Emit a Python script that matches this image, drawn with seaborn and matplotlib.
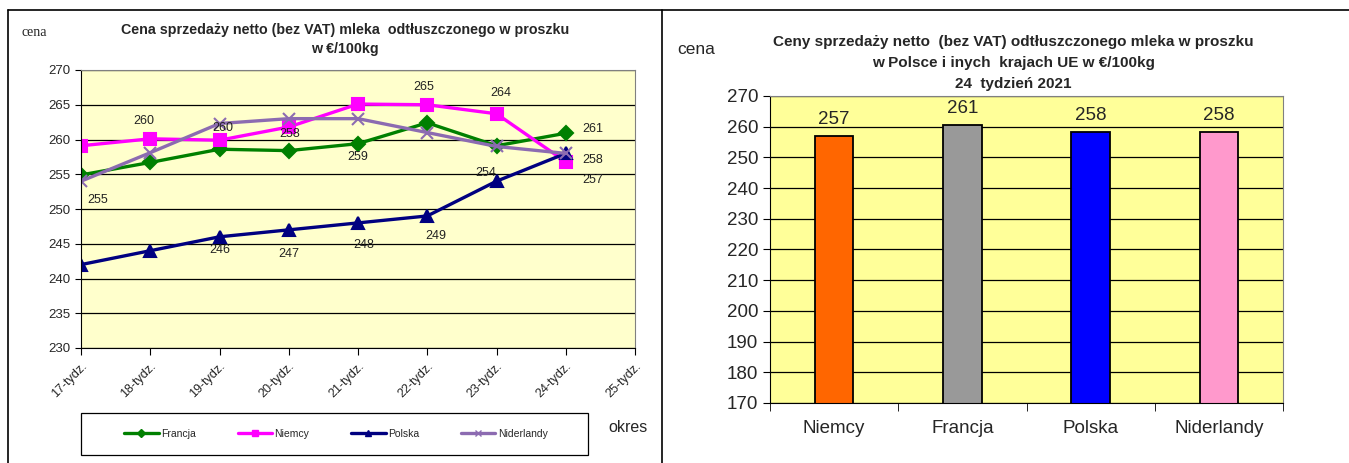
import pandas as pd
import numpy as np
import matplotlib.pyplot as plt
import seaborn as sns
from matplotlib.lines import Line2D
from matplotlib.patches import Rectangle

# ---- data ----
weeks = [17, 18, 19, 20, 21, 22, 23, 24]
week_labels = ["17-tydz.", "18-tydz.", "19-tydz.", "20-tydz.", "21-tydz.",
               "22-tydz.", "23-tydz.", "24-tydz.", "25-tydz."]
francja = [254.9, 256.7, 258.6, 258.4, 259.4, 262.4, 259.1, 260.9]
niemcy = [259.1, 260.1, 259.9, 261.8, 265.1, 265.0, 263.7, 256.8]
polska = [242.0, 244.0, 246.0, 247.0, 248.0, 249.0, 254.0, 258.0]
niderlandy = [254.0, 258.1, 262.3, 263.0, 263.0, 261.0, 259.0, 258.0]

bar_countries = ["Niemcy", "Francja", "Polska", "Niderlandy"]
bar_values = [257.0, 260.6, 258.3, 258.2]

# ---- styling ----
line_colors = {"Francja": "#008000", "Niemcy": "#FF00FF",
               "Polska": "#000080", "Niderlandy": "#8C6BB1"}
line_markers = {"Francja": "D", "Niemcy": "s", "Polska": "^", "Niderlandy": "x"}
marker_sizes = {"Francja": 7, "Niemcy": 8, "Polska": 8, "Niderlandy": 9}
bar_colors = ["#FF6600", "#999999", "#0000FF", "#FF99CC"]

sns.set_style("white")
plt.rcParams['font.family'] = ['Liberation Sans', 'DejaVu Sans']

df = pd.DataFrame({
    "week": weeks * 4,
    "cena": francja + niemcy + polska + niderlandy,
    "kraj": ["Francja"] * 8 + ["Niemcy"] * 8 + ["Polska"] * 8 + ["Niderlandy"] * 8,
})
bars_df = pd.DataFrame({"kraj": bar_countries, "cena": bar_values})

W, H = 1349, 463
fig = plt.figure(figsize=(W / 100, H / 100), dpi=100)
fig.patch.set_facecolor("white")

# frame lines
fig.add_artist(Line2D([8 / W, 1], [1 - 10 / H, 1 - 10 / H], color="black", lw=1.2))
fig.add_artist(Line2D([8 / W, 8 / W], [0, 1 - 10 / H], color="black", lw=1.2))
fig.add_artist(Line2D([662 / W, 662 / W], [0, 1 - 10 / H], color="black", lw=1.2))

# ---- left: line chart ----
ax1 = fig.add_axes([81 / W, 1 - 348 / H, (635 - 81) / W, (348 - 70) / H])
ax1.set_facecolor("#FFFFCC")
for kraj in ["Francja", "Niemcy", "Polska", "Niderlandy"]:
    sub = df[df["kraj"] == kraj]
    sns.lineplot(data=sub, x="week", y="cena", ax=ax1, color=line_colors[kraj],
                 marker=line_markers[kraj], markersize=marker_sizes[kraj],
                 markeredgecolor=line_colors[kraj], markeredgewidth=1.5,
                 linewidth=2.4, label=kraj, legend=False)

ax1.set_xlim(17, 25)
ax1.set_ylim(230, 270)
ax1.set_yticks(np.arange(230, 271, 5))
ax1.set_xticks(range(17, 26))
ax1.set_xticklabels(week_labels, rotation=45, ha="right", va="top",
                    rotation_mode="anchor", fontsize=9)
ax1.tick_params(axis="y", labelsize=9.5, length=4, color="black", direction="out", left=True)
ax1.tick_params(axis="x", length=5, color="black", direction="out", bottom=True, pad=4)
ax1.yaxis.grid(True, color="black", lw=0.9)
ax1.set_axisbelow(True)
ax1.set_xlabel("")
ax1.set_ylabel("")
for s in ["top", "right"]:
    ax1.spines[s].set_color("#808080")
for s in ["left", "bottom"]:
    ax1.spines[s].set_color("black")

series = {"Francja": francja, "Niemcy": niemcy, "Polska": polska, "Niderlandy": niderlandy}
# (series, week index, dx px, dy px)
point_labels = [
    ("Francja", 0, 17, -25), ("Niemcy", 1, -6, 18), ("Niemcy", 2, 3, 12),
    ("Francja", 3, 1, 17), ("Francja", 4, 0, -13), ("Niemcy", 5, -4, 18),
    ("Niemcy", 6, 4, 21), ("Francja", 7, 27, 4), ("Polska", 7, 27, -7),
    ("Niemcy", 7, 27, -18), ("Polska", 2, 0, -13), ("Polska", 3, 0, -24),
    ("Polska", 4, 6, -22), ("Polska", 5, 9, -20), ("Polska", 6, -11, 8),
]
for kraj, i, dx, dy in point_labels:
    v = series[kraj][i]
    ax1.annotate(f"{v:.0f}", (weeks[i], v), xytext=(dx * 0.72, dy * 0.72),
                 textcoords="offset points", ha="center", va="center",
                 fontsize=9, color="#222222")

# legend box
fig.add_artist(Rectangle((81 / W, 1 - 455 / H), (588 - 81) / W, 42 / H,
                         transform=fig.transFigure, fill=False,
                         edgecolor="black", lw=0.9))
handles = [Line2D([], [], color=line_colors[k], lw=2.4, marker=line_markers[k],
                  markersize=4, markeredgewidth=1) for k in series]
fig.legend(handles, list(series.keys()), loc="center", ncol=4,
           bbox_to_anchor=(336 / W, 1 - 434 / H), fontsize=7.5, frameon=False,
           handlelength=3.3, handletextpad=0.25, columnspacing=4.0)

fig.text(345 / W, 1 - 30 / H, "Cena sprzedaży netto (bez VAT) mleka  odtłuszczonego w proszku",
         ha="center", va="center", fontsize=10.3, fontweight="bold")
fig.text(345 / W, 1 - 49 / H, "w €/100kg", ha="center", va="center",
         fontsize=10.3, fontweight="bold")
fig.text(22 / W, 1 - 33 / H, "cena", ha="left", va="center", fontsize=10,
         family="Liberation Serif")
fig.text(628 / W, 1 - 428 / H, "okres", ha="center", va="center", fontsize=11.5)

# ---- right: bar chart ----
ax2 = fig.add_axes([770 / W, 1 - 403 / H, (1283 - 770) / W, (403 - 96) / H])
ax2.set_facecolor("#FFFF99")
sns.barplot(data=bars_df, x="kraj", y="cena", hue="kraj", palette=bar_colors,
            saturation=1, width=0.3, edgecolor="black", linewidth=1.3, ax=ax2,
            legend=False)
ax2.set_ylim(170, 270)
ax2.set_yticks(np.arange(170, 271, 10))
ax2.set_xlim(-0.5, 3.5)
ax2.yaxis.grid(True, color="black", lw=0.9)
ax2.set_axisbelow(True)
ax2.set_xlabel("")
ax2.set_ylabel("")
ax2.tick_params(axis="y", labelsize=13.5, length=5, direction="out", left=True, color="black")
ax2.tick_params(axis="x", labelsize=13.5, length=0, pad=12)
ax2.set_xticks(np.arange(-0.5, 4, 1), minor=True)
ax2.tick_params(axis="x", which="minor", length=6, direction="out", bottom=True, color="black")
for s in ["top", "right"]:
    ax2.spines[s].set_color("#808080")
for s in ["left", "bottom"]:
    ax2.spines[s].set_color("black")
for c in ax2.containers:
    ax2.bar_label(c, fmt="%.0f", padding=6, fontsize=13.5)

fig.text(1013 / W, 1 - 42 / H, "Ceny sprzedaży netto  (bez VAT) odtłuszczonego mleka w proszku",
         ha="center", va="center", fontsize=11, fontweight="bold")
fig.text(1013 / W, 1 - 63 / H, "w Polsce i inych  krajach UE w €/100kg",
         ha="center", va="center", fontsize=11, fontweight="bold")
fig.text(1013 / W, 1 - 84 / H, "24  tydzień 2021",
         ha="center", va="center", fontsize=11, fontweight="bold")
fig.text(677 / W, 1 - 49 / H, "cena", ha="left", va="center", fontsize=12.5)

fig.savefig("out.png", dpi=100)
